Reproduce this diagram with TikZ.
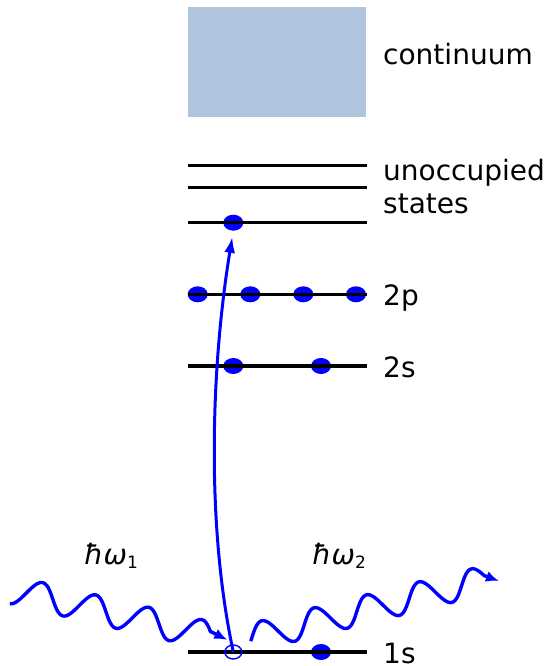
\documentclass[tikz,border=0pt]{standalone}
\usepackage{fontspec}
\setmainfont{DejaVu Sans}
\usetikzlibrary{arrows.meta,shapes.geometric}
\definecolor{contblue}{HTML}{B0C4DE}
\definecolor{elblue}{HTML}{0000FF}

\tikzset{
  level/.style={line width=3.4pt},
  electron/.style={ellipse, fill=elblue, minimum width=20pt, minimum height=16pt, inner sep=0pt},
  hole/.style={ellipse, draw=elblue, line width=1.4pt, minimum width=17pt, minimum height=14pt, inner sep=0pt},
  lbl/.style={anchor=base west, inner sep=0pt, align=left, font=\fontsize{28}{33.3}\selectfont},
  photon/.style={elblue, line width=3.4pt, line join=round, -{Latex[length=13pt,width=11pt]}},
  excite/.style={elblue, line width=3pt, -{Latex[length=16pt,width=11pt]}}
}

\begin{document}
\begin{tikzpicture}[x=1pt,y=-1pt]
  \useasboundingbox (0,0) rectangle (547,666);

  % continuum
  \fill[contblue] (188,7) rectangle (366,117);

  % electrons
  \node[electron] (e3) at (233.3,222.7) {};
  \foreach \x/\n in {197.7/1,250.3/2,303.3/3,356/4}
    \node[electron] (p\n) at (\x,294.3) {};
  \node[electron] (s1) at (233.3,366) {};
  \node[electron] (s2) at (321,366) {};
  \node[electron] (k1) at (321,652) {};

  % levels
  \foreach \y in {165.7,187.3,222.7,294.3,366,652}
    \draw[level] (188,\y) -- (366.5,\y);

  \node[hole] (hole) at (233.3,652) {};

  % labels
  \node[lbl] (lcont) at (383,65) {continuum};
  \node[lbl] (lunocc) at (383,213.3) {unoccupied\\states};
  \node[lbl] (l2p) at (383,305.7) {2p};
  \node[lbl] (l2s) at (383,377.3) {2s};
  \node[lbl] (l1s) at (383,663.4) {1s};
  \node[lbl] (lw1) at (84,564) {{\itshape ħω}\raisebox{-4.3pt}{\fontsize{17}{17}\selectfont 1}};
  \node[lbl] (lw2) at (312,564) {{\itshape ħω}\raisebox{-4.3pt}{\fontsize{17}{17}\selectfont 2}};

  % excitation
  \draw[excite, shorten >=6pt] (hole.center) .. controls (205,520) and (212,360) .. (e3.south);

  % incoming photon
  \begin{scope}[shift={(13,590)},rotate=-13.1]
    \coordinate (g1) at (220,0);
    \draw[photon] plot[domain=0:201.6,samples=90,smooth] (\x,{14*cos(6.6055*\x)}) -- (g1);
  \end{scope}

  % outgoing photon
  \begin{scope}[shift={(250,638)},rotate=13.9]
    \coordinate (g2) at (255.4,4.5);
    \draw[photon] plot[domain=0:242.3,samples=100,smooth] (\x,{-14*sin(6.6667*(\x-2))}) -- (g2);
  \end{scope}
\end{tikzpicture}
\end{document}
